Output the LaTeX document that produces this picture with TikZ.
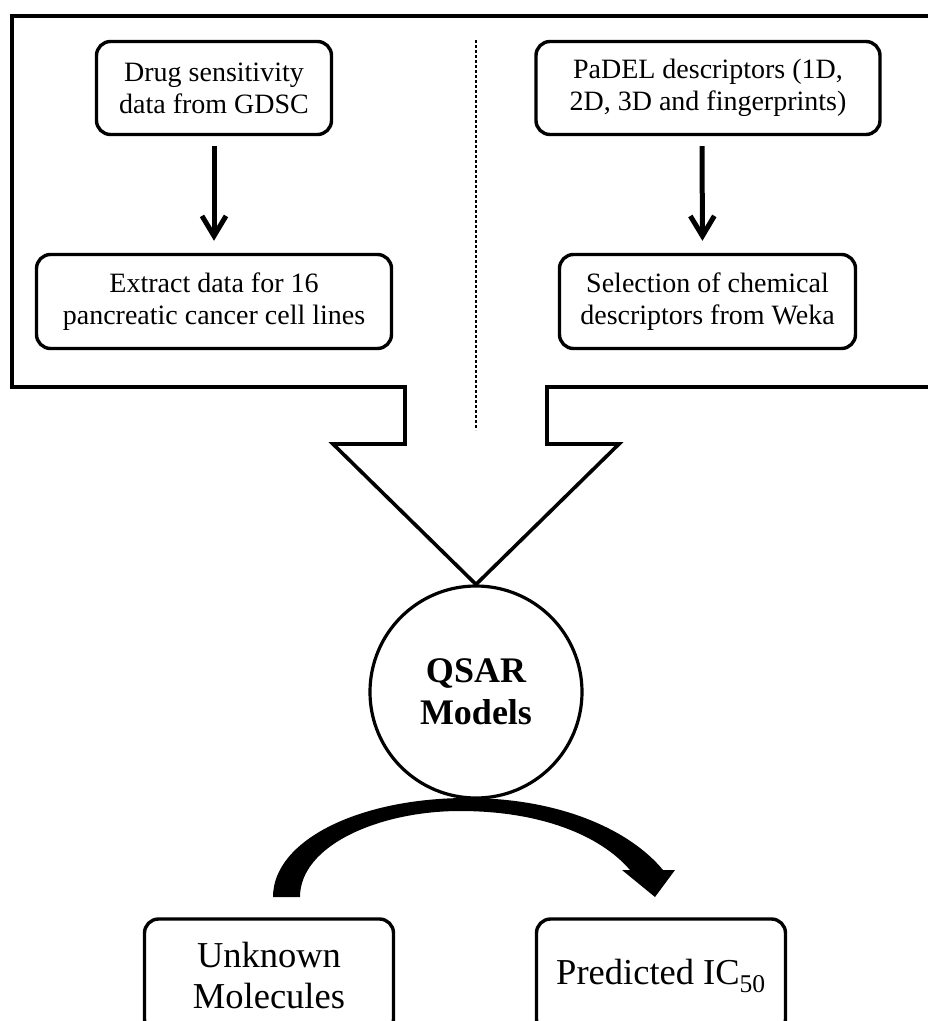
\documentclass[tikz,border=0pt]{standalone}
\usepackage{fontspec}
\setmainfont{Liberation Serif}
\usetikzlibrary{arrows.meta}
\begin{document}
\begin{tikzpicture}[x=1pt,y=-1pt,
  box/.style={draw, line width=3.4pt, rounded corners=14pt, align=center, inner sep=0pt,
    font=\fontsize{28}{32}\selectfont},
  bigbox/.style={draw, line width=3.4pt, rounded corners=14pt, align=center, inner sep=0pt,
    font=\fontsize{36.5}{41}\selectfont},
  flow/.style={line width=5pt, -{Straight Barb[length=20pt,width=24pt]}},
  outline/.style={line width=3.6pt, line join=miter},
  divider/.style={line width=1.2pt, dash pattern=on 3pt off 2pt}]
\clip (0,0) rectangle (928,1021);
\fill[white] (0,0) rectangle (928,1021);

% top boxes
\node[box, minimum width=235pt, minimum height=93pt] (b1) at (214,88) {Drug sensitivity\\data from GDSC};
\node[box, minimum width=344pt, minimum height=93pt] (b2) at (708,88) {PaDEL descriptors (1D,\\2D, 3D and fingerprints)};
\node[box, minimum width=355pt, minimum height=94pt] (b3) at (214,301.5) {Extract data for 16\\pancreatic cancer cell lines};
\node[box, minimum width=296pt, minimum height=94pt] (b4) at (707.5,301.5) {Selection of chemical\\descriptors from Weka};

\draw[flow, shorten <=10pt, shorten >=12pt] (b1.south) -- (b3.north);
\draw[flow, shorten <=10pt, shorten >=12pt] ([xshift=-6pt]b2.south) -- ([xshift=-5pt]b4.north);

% dashed divider
\coordinate (dtop) at (476,40);
\coordinate (dbot) at (476,430);
\draw[divider] (dtop) -- (dbot);

% QSAR circle
\node[circle, draw, line width=3.2pt, minimum size=212pt, inner sep=0pt, align=center,
  font=\bfseries\fontsize{36}{42}\selectfont] (q) at (476,692) {QSAR\\Models};

% big outline funnel arrow
\draw[outline] (940,16) -- (12,16) -- (12,387) -- (405,387) -- (405,444) -- (333,444)
  -- (q.north) -- (619,444) -- (547,444) -- (547,387) -- (940,387);

% bottom boxes
\node[bigbox, minimum width=249pt, minimum height=114pt] (b5) at (269,976) {Unknown\\Molecules};
\node[bigbox, minimum width=249pt, minimum height=114pt] (b6) at (661,976) {Predicted IC\textsubscript{50}};

% curved thick arrow
\fill (273,897) .. controls (273,840) and (360,798) .. (467,798)
  .. controls (560,798) and (630,830) .. (663,870)
  -- (675,870) -- (655,897) -- (622,870) -- (630,870)
  .. controls (600,835) and (540,811) .. (460,811)
  .. controls (380,811) and (300,845) .. (300,897) -- cycle;
\end{tikzpicture}
\end{document}
